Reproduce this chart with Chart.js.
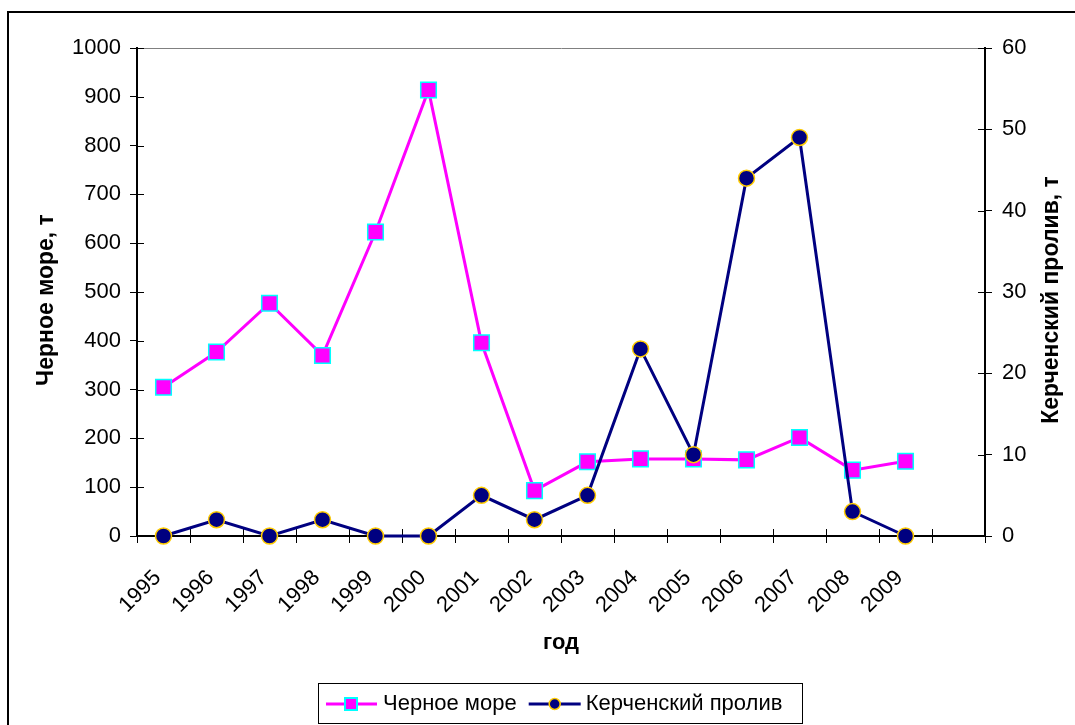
<!DOCTYPE html>
<html>
<head>
<meta charset="utf-8">
<script src="https://cdn.jsdelivr.net/npm/chart.js@4/dist/chart.umd.min.js"></script>
<style>
  html, body { margin: 0; padding: 0; background: #fff; }
  canvas { display: block; }
</style>
</head>
<body>
<canvas id="grafico" width="1075" height="725"></canvas>
<script>
// dados (16 categorias, a última fica vazia)
const anos = ['1995', '1996', '1997', '1998', '1999', '2000', '2001', '2002',
              '2003', '2004', '2005', '2006', '2007', '2008', '2009', ''];
const chernoeMore = [305, 377, 477, 370, 623, 914, 396, 93, 152, 158, 158, 156, 202, 135, 153, null];
const kerchProliv = [0, 2, 0, 2, 0, 0, 5, 2, 5, 23, 10, 44, 49, 3, 0, null];

const nomeSerie1 = 'Черное море';
const nomeSerie2 = 'Керченский пролив';
const tituloEsq = 'Черное море, т';
const tituloDir = 'Керченский пролив, т';
const tituloX = 'год';

const eixoEsq = { min: 0, max: 1000, passo: 100 };
const eixoDir = { min: 0, max: 60, passo: 10 };

const FONTE = "Arial, 'Liberation Sans', sans-serif";
const ROSA = '#FF00FF', CIANO = '#00FFFF', AZUL = '#000080', OURO = '#FFCC00';

// moldura externa + fundo branco
const moldura = {
    id: 'moldura',
    beforeDraw(chart) {
        const c = chart.ctx;
        c.save();
        c.fillStyle = '#fff';
        c.fillRect(0, 0, chart.width, chart.height);
        c.strokeStyle = '#000';
        c.lineWidth = 2;
        c.strokeRect(8, 12, 1200, 900);
        c.restore();
    }
};

// tracinhos dos eixos que atravessam para dentro da área (estilo Excel)
const tracosInternos = {
    id: 'tracosInternos',
    beforeDatasetsDraw(chart) {
        const c = chart.ctx;
        const a = chart.chartArea;
        c.save();
        c.strokeStyle = '#000';
        c.lineWidth = 1;
        c.beginPath();
        chart.scales.y.ticks.forEach(t => {
            const y = Math.round(chart.scales.y.getPixelForValue(t.value)) + 0.5;
            c.moveTo(a.left, y); c.lineTo(a.left + 7, y);
        });
        chart.scales.y1.ticks.forEach(t => {
            const y = Math.round(chart.scales.y1.getPixelForValue(t.value)) + 0.5;
            c.moveTo(a.right - 7, y); c.lineTo(a.right, y);
        });
        const n = anos.length;
        for (let i = 0; i <= n; i++) {
            const x = Math.round(a.left + i * (a.right - a.left) / n) + 0.5;
            c.moveTo(x, a.bottom); c.lineTo(x, a.bottom - 7);
        }
        c.stroke();
        c.restore();
    }
};

// títulos verticais lidos de baixo para cima, como no Excel
function textoVertical(c, texto, x, y, tamanho) {
    c.save();
    c.translate(x, y);
    c.rotate(-Math.PI / 2);
    c.font = 'bold ' + tamanho + 'px ' + FONTE;
    c.fillStyle = '#000';
    c.textAlign = 'center';
    c.textBaseline = 'middle';
    c.fillText(texto, 0, 0);
    c.restore();
}
const titulosVerticais = {
    id: 'titulosVerticais',
    afterDraw(chart) {
        textoVertical(chart.ctx, tituloEsq, 47, 300, 23);
        textoVertical(chart.ctx, tituloDir, 1052, 300, 23);
    }
};

// legenda desenhada à mão: linha + marcador, numa caixa com borda
const legendaExcel = {
    id: 'legendaExcel',
    afterDraw(chart) {
        const c = chart.ctx;
        c.save();
        c.strokeStyle = '#000';
        c.lineWidth = 1;
        c.strokeRect(318.5, 683.5, 484, 40);
        c.font = '22px ' + FONTE;
        c.textBaseline = 'middle';
        c.fillStyle = '#000';
        const yc = 704;

        // item 1
        c.strokeStyle = ROSA; c.lineWidth = 3;
        c.beginPath(); c.moveTo(326, yc); c.lineTo(377, yc); c.stroke();
        c.fillStyle = ROSA; c.fillRect(345, yc - 6, 12, 12);
        c.strokeStyle = CIANO; c.lineWidth = 2; c.strokeRect(345, yc - 6, 12, 12);
        c.fillStyle = '#000';
        c.fillText(nomeSerie1, 383, yc);

        // item 2
        const x2 = 383 + c.measureText(nomeSerie1).width + 12;
        c.strokeStyle = AZUL; c.lineWidth = 3;
        c.beginPath(); c.moveTo(x2, yc); c.lineTo(x2 + 52, yc); c.stroke();
        c.beginPath(); c.arc(x2 + 26, yc, 5.5, 0, Math.PI * 2);
        c.fillStyle = AZUL; c.fill();
        c.strokeStyle = OURO; c.lineWidth = 1.5; c.stroke();
        c.fillStyle = '#000';
        c.fillText(nomeSerie2, x2 + 57, yc);
        c.restore();
    }
};

const ctx = document.getElementById('grafico').getContext('2d');
let meuGrafico = new Chart(ctx, {
    type: 'line',
    data: {
        labels: anos,
        datasets: [
            {
                label: nomeSerie1,
                data: chernoeMore,
                yAxisID: 'y',
                borderColor: ROSA,
                borderWidth: 3,
                pointStyle: 'rect',
                pointRadius: 11,
                pointBackgroundColor: ROSA,
                pointBorderColor: CIANO,
                pointBorderWidth: 1.5,
                tension: 0,
                clip: false,
                order: 1
            },
            {
                label: nomeSerie2,
                data: kerchProliv,
                yAxisID: 'y1',
                borderColor: AZUL,
                borderWidth: 3,
                pointStyle: 'circle',
                pointRadius: 8,
                pointBackgroundColor: AZUL,
                pointBorderColor: OURO,
                pointBorderWidth: 1.5,
                tension: 0,
                clip: false,
                order: 0
            }
        ]
    },
    options: {
        responsive: false,
        animation: false,
        layout: { padding: { left: 0, right: 0, top: 48, bottom: 59 } },
        plugins: {
            legend: { display: false },
            tooltip: { enabled: false }
        },
        scales: {
            x: {
                type: 'category',
                offset: true,
                afterFit: s => { s.height = 130; },
                grid: { offset: true, drawOnChartArea: false, color: '#000', tickLength: 7 },
                border: { color: '#000', width: 2 },
                ticks: {
                    autoSkip: false,
                    minRotation: 45,
                    maxRotation: 45,
                    padding: 22,
                    labelOffset: -6,
                    color: '#000',
                    font: { family: FONTE, size: 22 }
                },
                title: {
                    display: true,
                    text: tituloX,
                    color: '#000',
                    padding: { top: 0, bottom: 10 },
                    font: { family: FONTE, size: 22, weight: 'bold' }
                }
            },
            y: {
                position: 'left',
                min: eixoEsq.min,
                max: eixoEsq.max,
                afterFit: s => { s.width = 137; },
                grid: {
                    drawOnChartArea: true,
                    color: c => (c.tick && c.tick.value === eixoEsq.max) ? '#808080' : 'rgba(0,0,0,0)',
                    tickColor: '#000',
                    tickLength: 7
                },
                border: { color: '#000', width: 2 },
                ticks: {
                    stepSize: eixoEsq.passo,
                    padding: 9,
                    color: '#000',
                    font: { family: FONTE, size: 22 },
                    callback: v => String(v)
                },
                title: { display: false }
            },
            y1: {
                position: 'right',
                min: eixoDir.min,
                max: eixoDir.max,
                afterFit: s => { s.width = 90; },
                grid: { drawOnChartArea: false, color: '#000', tickLength: 7 },
                border: { color: '#000', width: 2 },
                ticks: {
                    stepSize: eixoDir.passo,
                    padding: 10,
                    color: '#000',
                    font: { family: FONTE, size: 22 },
                    callback: v => String(v)
                },
                title: { display: false }
            }
        }
    },
    plugins: [moldura, tracosInternos, titulosVerticais, legendaExcel]
});
</script>
</body>
</html>
